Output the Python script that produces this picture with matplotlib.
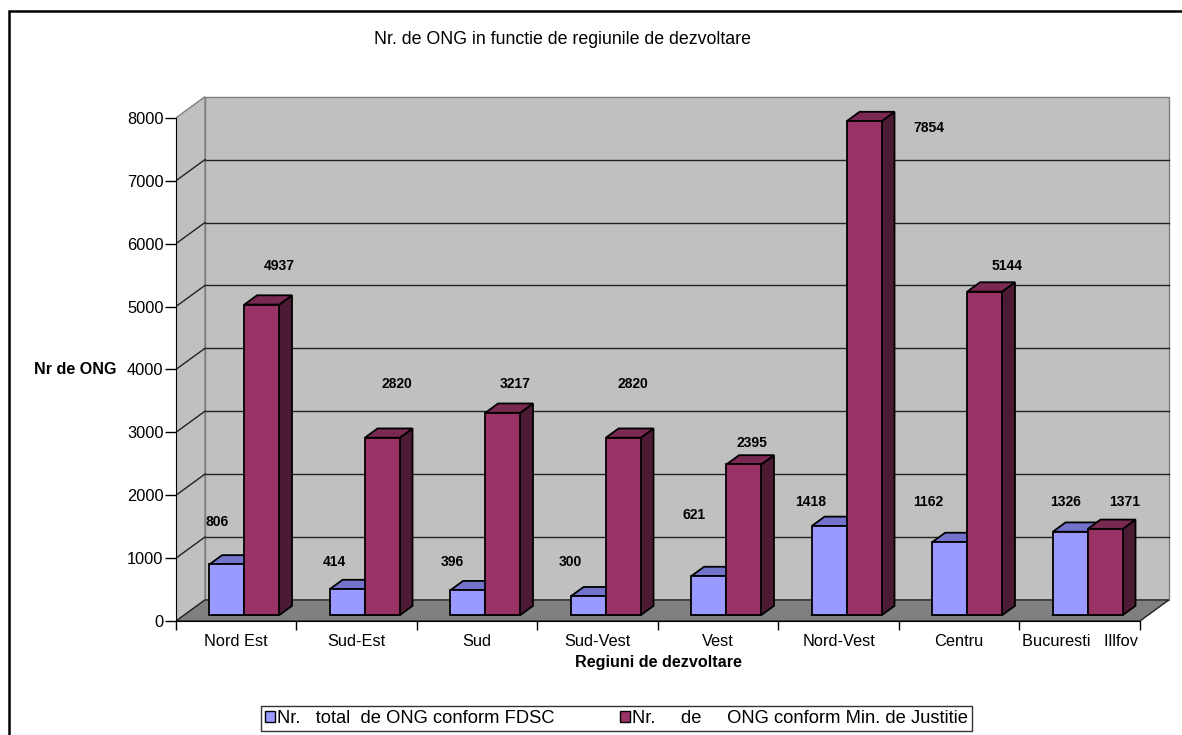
import matplotlib
matplotlib.use("Agg")
import matplotlib.pyplot as plt
from matplotlib.patches import Polygon, Rectangle

plt.rcParams['font.family'] = ['Liberation Sans', 'DejaVu Sans']

# Data
regions = ["Nord Est", "Sud-Est", "Sud", "Sud-Vest", "Vest", "Nord-Vest", "Centru", "Bucuresti   Illfov"]
ong_fdsc = [806, 414, 396, 300, 621, 1418, 1162, 1326]
ong_mj = [4937, 2820, 3217, 2820, 2395, 7854, 5144, 1371]
series_names = ["Nr.   total  de ONG conform FDSC", "Nr.     de     ONG conform Min. de Justitie"]
y_ticks = [0, 1000, 2000, 3000, 4000, 5000, 6000, 7000, 8000]

# where Excel put the data labels (offset from group centre, height on the front plane)
lbl_fdsc_dx = [-0.162, -0.186, -0.204, -0.224, -0.20, -0.233, -0.254, -0.114]
lbl_fdsc_y = [1574, 943, 943, 943, 1685, 1887, 1887, 1887]
lbl_mj_dx = [0.357, 0.337, 0.316, 0.295, 0.280, 0.746, 0.396, 0.376]
lbl_mj_y = [5644, 3768, 3768, 3768, 2825, 7833, 5644, 1887]

# pseudo 3D geometry (data units)
d, D = 0.24, 335        # depth of the box
f0, f1 = 0.28, 0.72     # bar depth position within the box
w = 0.29                # bar width

fig = plt.figure(figsize=(11.82, 7.35), dpi=100)
ax = fig.add_axes([176/1182, 114/735, 995.3/1182, 524.9/735])
ax.set_xlim(0, 8.26)
ax.set_ylim(0, 8345)
ax.patch.set_visible(False)

wall = "#c0c0c0"
edge_gray = "#808080"
top = y_ticks[-1]
n = len(regions)

# walls and floor
ax.add_patch(Polygon([(d, D), (n + d, D), (n + d, top + D), (d, top + D)],
                     closed=True, fc=wall, ec=edge_gray, lw=1, zorder=0))
ax.add_patch(Polygon([(0, 0), (d, D), (d, top + D), (0, top)],
                     closed=True, fc=wall, ec=edge_gray, lw=1, zorder=0))
ax.add_patch(Polygon([(0, 0), (n, 0), (n + d, D), (d, D)],
                     closed=True, fc="#808080", ec="#222222", lw=1, zorder=0.5))
for v in y_ticks[1:-1]:
    ax.plot([d, n + d], [v + D, v + D], color="#222222", lw=1, zorder=0.6)
    ax.plot([0, d], [v, v + D], color="#222222", lw=1, zorder=0.6)


def bar3d(x0, h, front, topc, side):
    x1 = x0 + w
    bx, by = f0 * d, f0 * D
    dx, dy = (f1 - f0) * d, (f1 - f0) * D
    kw = dict(closed=True, ec="black", lw=1.3, zorder=2, joinstyle="miter")
    ax.add_patch(Polygon([(x0 + bx, by), (x1 + bx, by), (x1 + bx + dx, by + dy),
                          (x1 + bx + dx, by + h + dy), (x1 + bx, by + h)], fc=side, **kw))
    ax.add_patch(Polygon([(x0 + bx, by + h), (x1 + bx, by + h), (x1 + bx + dx, by + h + dy),
                          (x0 + bx + dx, by + h + dy)], fc=topc, **kw))
    ax.add_patch(Polygon([(x0 + bx, by), (x1 + bx, by), (x1 + bx, by + h),
                          (x0 + bx, by + h)], fc=front, **kw))


for i in range(n):
    c = i + 0.5
    bar3d(c - w, ong_fdsc[i], "#9999ff", "#7373cc", "#5c5ca3")
    bar3d(c, ong_mj[i], "#993366", "#7a2952", "#4d1a33")
    ax.text(c + lbl_fdsc_dx[i], lbl_fdsc_y[i], str(ong_fdsc[i]), ha="center", va="center",
            fontsize=10, fontweight="bold", zorder=3)
    ax.text(c + lbl_mj_dx[i], lbl_mj_y[i], str(ong_mj[i]), ha="center", va="center",
            fontsize=10, fontweight="bold", zorder=3)

# axes
for s in ["top", "right"]:
    ax.spines[s].set_visible(False)
ax.spines["left"].set_bounds(0, top)
ax.spines["bottom"].set_bounds(0, n)
ax.spines["left"].set_zorder(1)
ax.spines["bottom"].set_zorder(1)
ax.set_yticks(y_ticks)
ax.set_yticklabels([str(v) for v in y_ticks], fontsize=11.8)
ax.tick_params(axis="y", direction="out", length=8, width=1, pad=1)
ax.set_xticks(range(n + 1))
ax.set_xticklabels([])
ax.tick_params(axis="x", which="major", direction="out", length=6.5, width=1)
ax.set_xticks([i + 0.5 for i in range(n)], minor=True)
ax.set_xticklabels(regions, minor=True, fontsize=11.8)
ax.tick_params(axis="x", which="minor", length=0, pad=9)

fig.text(562/1182, 1 - 40/735, "Nr. de ONG in functie de regiunile de dezvoltare",
         ha="center", va="center", fontsize=12.8)
fig.text(75/1182, 1 - 370/735, "Nr de ONG", ha="center", va="center",
         fontsize=11.6, fontweight="bold")
fig.text(658/1182, 1 - 663/735, "Regiuni de dezvoltare", ha="center", va="center",
         fontsize=11.6, fontweight="bold")

handles = [Rectangle((0, 0), 1, 1, fc="#9999ff", ec="black", lw=1),
           Rectangle((0, 0), 1, 1, fc="#993366", ec="black", lw=1)]
leg = fig.legend(handles, series_names, loc="center", bbox_to_anchor=(616.5/1182, 1 - 718.5/735),
                 ncol=2, fontsize=13.2, frameon=True, fancybox=False, edgecolor="black",
                 handlelength=0.55, handleheight=0.55, handletextpad=0.1, columnspacing=3.6,
                 borderpad=0.2, borderaxespad=0)
leg.get_frame().set_linewidth(1)

# outer chart border
fig.add_artist(Rectangle((9/1182, -0.02), 1.1, 1 - 11/735 + 0.02, transform=fig.transFigure,
                         fill=False, ec="black", lw=1.8))

fig.savefig("out.png", dpi=100)
